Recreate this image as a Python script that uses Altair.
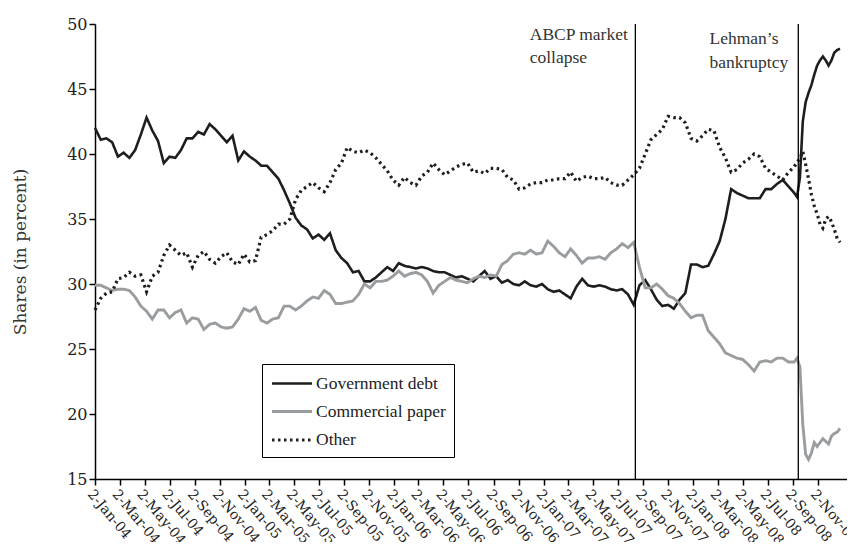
import altair as alt
import pandas as pd

# ---- data (shares in percent), biweekly Jan 2004 - Sep 5 2008, then weekly to Dec 26 2008
biweekly_dates = [d.strftime("%Y-%m-%d") for d in pd.date_range("2004-01-02", periods=123, freq="14D")]
weekly_dates = [d.strftime("%Y-%m-%d") for d in pd.date_range("2008-09-12", periods=16, freq="7D")]
dates = biweekly_dates + weekly_dates

government_debt = [
    42.0, 41.1, 41.2, 40.9, 39.8, 40.1, 39.7, 40.3, 41.5, 42.8,
    41.8, 41.0, 39.3, 39.8, 39.7, 40.3, 41.2, 41.2, 41.7, 41.5,
    42.3, 41.9, 41.4, 40.9, 41.4, 39.5, 40.2, 39.8, 39.5, 39.1,
    39.1, 38.6, 38.1, 37.2, 36.2, 35.1, 34.5, 34.2, 33.5, 33.8,
    33.4, 33.9, 32.6, 32.0, 31.6, 30.9, 31.0, 30.2, 30.2, 30.5,
    30.9, 31.3, 31.0, 31.6, 31.4, 31.3, 31.2, 31.3, 31.2, 31.0,
    30.9, 30.9, 30.7, 30.5, 30.6, 30.4, 30.2, 30.6, 31.0, 30.4,
    30.6, 30.1, 30.3, 30.0, 29.9, 30.2, 29.9, 29.8, 30.0, 29.6,
    29.4, 29.5, 29.2, 28.9, 29.8, 30.4, 29.9, 29.8, 29.9, 29.8,
    29.6, 29.5, 29.6, 29.2, 28.4, 29.9, 30.3, 29.6, 28.8, 28.3,
    28.4, 28.1, 28.8, 29.3, 31.5, 31.5, 31.3, 31.4, 32.3, 33.3,
    35.0, 37.3, 37.0, 36.8, 36.6, 36.6, 36.6, 37.3, 37.3, 37.7,
    38.0, 37.5, 37.0,
    36.7, 38.2, 42.5, 44.0, 44.7, 45.3, 46.1, 46.8, 47.2, 47.5,
    47.2, 46.8, 47.2, 47.8, 48.0, 48.1,
]

commercial_paper = [
    29.9, 29.9, 29.7, 29.5, 29.6, 29.6, 29.5, 29.0, 28.3, 27.9,
    27.3, 28.0, 28.0, 27.4, 27.8, 28.0, 27.0, 27.4, 27.3, 26.5,
    26.9, 27.0, 26.7, 26.6, 26.7, 27.3, 28.1, 27.9, 28.2, 27.2,
    27.0, 27.3, 27.4, 28.3, 28.3, 28.0, 28.3, 28.7, 29.0, 28.9,
    29.5, 29.2, 28.5, 28.5, 28.6, 28.7, 29.2, 30.0, 29.7, 30.2,
    30.2, 30.3, 30.6, 31.0, 30.6, 30.8, 30.9, 30.7, 30.2, 29.3,
    29.9, 30.2, 30.5, 30.3, 30.2, 30.1, 30.4, 30.6, 30.5, 30.7,
    30.6, 31.5, 31.8, 32.3, 32.4, 32.3, 32.6, 32.3, 32.4, 33.3,
    32.9, 32.4, 32.1, 32.7, 32.2, 31.6, 32.0, 32.0, 32.1, 31.9,
    32.4, 32.7, 33.1, 32.8, 33.2, 31.3, 29.7, 29.7, 30.0, 29.6,
    29.1, 28.9, 28.5, 27.9, 27.4, 27.6, 27.6, 26.4, 25.9, 25.4,
    24.7, 24.5, 24.3, 24.2, 23.8, 23.3, 24.0, 24.1, 24.0, 24.3,
    24.3, 24.0, 24.0,
    24.3, 23.6, 19.2, 16.9, 16.5, 17.0, 17.8, 17.5, 17.8, 18.1,
    17.9, 17.7, 18.3, 18.5, 18.6, 18.9,
]

other = [
    28.0, 28.9, 29.3, 29.4, 30.4, 30.5, 30.9, 30.6, 30.7, 29.4,
    30.6, 30.9, 32.2, 33.0, 32.6, 32.2, 32.4, 31.3, 32.2, 32.5,
    31.9, 31.6, 32.1, 32.4, 31.7, 31.5, 32.3, 31.7, 31.8, 33.6,
    33.8, 34.1, 34.6, 34.6, 35.0, 36.5, 37.2, 37.5, 37.8, 37.4,
    37.1, 37.8, 38.8, 39.3, 40.5, 40.2, 40.1, 40.3, 40.1, 39.7,
    39.2, 38.7, 38.0, 37.6, 38.2, 37.8, 37.6, 38.3, 38.6, 39.3,
    38.8, 38.4, 38.7, 39.0, 39.2, 39.3, 38.6, 38.7, 38.5, 38.9,
    38.9, 38.8, 38.2, 38.0, 37.3, 37.4, 37.7, 37.8, 37.8, 38.0,
    38.0, 38.1, 38.1, 38.6, 37.9, 38.2, 38.3, 38.1, 38.1, 38.2,
    37.8, 37.6, 37.6, 38.0, 38.4, 38.9, 40.0, 41.1, 41.5, 41.9,
    42.9, 42.8, 42.8, 42.4, 41.2, 41.0, 41.4, 41.9, 41.8, 40.5,
    39.7, 38.6, 38.8, 39.3, 39.6, 40.0, 39.8, 38.9, 38.6, 38.3,
    38.0, 38.6, 39.0,
    39.4, 39.6, 40.2, 39.2, 38.1, 36.9, 36.0, 35.4, 34.6, 34.3,
    35.0, 35.2, 34.8, 34.2, 33.5, 33.2,
]

series_names = ["Government debt", "Commercial paper", "Other"]
series_colors = ["#1e1e1e", "#9a9d9f", "#1e1e1e"]
series_dashes = [[1, 0], [1, 0], [2.5, 3.5]]
series_widths = [2.6, 3.2, 2.8]

event_dates = ["2007-08-14", "2008-09-15"]
note_dates = ["2006-11-29", "2006-11-29", "2008-02-11", "2008-02-11"]
note_values = [48.77, 46.98, 48.46, 46.6]
note_texts = ["ABCP market", "collapse", "Lehman\u2019s", "bankruptcy"]

tick_dates = [(y, m) for y in range(2004, 2009) for m in (1, 3, 5, 7, 9, 11)]
y_ticks = [15, 20, 25, 30, 35, 40, 45, 50]

# ---- tables
rows = []
for name, vals in zip(series_names, [government_debt, commercial_paper, other]):
    for d, v in zip(dates, vals):
        rows.append({"date": d, "series": name, "share": v})
df = pd.DataFrame(rows)
events = pd.DataFrame({"date": event_dates})
notes = pd.DataFrame({"date": note_dates, "share": note_values, "text": note_texts})

AXIS_FONT = "DejaVu Serif"
TEXT_FONT = "Liberation Serif"

x_scale = alt.Scale(
    type="utc",
    domain=[alt.DateTime(year=2004, month=1, date=2, utc=True),
            alt.DateTime(year=2009, month=1, date=12, utc=True)],
)
x_axis = alt.Axis(
    values=[alt.DateTime(year=y, month=m, date=2, utc=True) for y, m in tick_dates],
    tickCount=100,
    format="%-d-%b-%y",
    labelAngle=50,
    labelAlign="left",
    labelBaseline="top",
    labelOverlap=False,
    labelPadding=2,
    labelFontSize=14,
    title=None,
)
y_scale = alt.Scale(domain=[15, 50], nice=False, zero=False)
y_axis = alt.Axis(values=y_ticks, title="Shares (in percent)", titlePadding=37, labelFontSize=16)

legend = alt.Legend(
    title=None,
    orient="none",
    legendX=167,
    legendY=340,
    strokeColor="black",
    padding=8,
    labelFont=TEXT_FONT,
    labelFontSize=17.5,
    labelColor="#222",
    symbolType="M-1,0H3",
    symbolSize=400,
    symbolStrokeWidth=3.5,
    rowPadding=8,
    labelOffset=22,
)

lines = alt.Chart(df).mark_line(strokeCap="butt").encode(
    x=alt.X("date:T", scale=x_scale, axis=x_axis),
    y=alt.Y("share:Q", scale=y_scale, axis=y_axis),
    color=alt.Color("series:N", scale=alt.Scale(domain=series_names, range=series_colors), legend=legend),
    strokeDash=alt.StrokeDash("series:N", scale=alt.Scale(domain=series_names, range=series_dashes), legend=legend),
    strokeWidth=alt.StrokeWidth("series:N", scale=alt.Scale(domain=series_names, range=series_widths), legend=None),
)

rules = alt.Chart(events).mark_rule(color="black", strokeWidth=1.3).encode(
    x=alt.X("date:T", scale=x_scale),
)

texts = alt.Chart(notes).mark_text(
    align="left", baseline="alphabetic", font=TEXT_FONT, fontSize=17.5, color="#333"
).encode(
    x=alt.X("date:T", scale=x_scale),
    y=alt.Y("share:Q", scale=y_scale),
    text="text:N",
)

chart = alt.layer(lines, rules, texts).properties(
    width=752,
    height=455,
    autosize=alt.AutoSizeParams(type="none"),
    padding={"left": 87, "top": 16, "right": 0, "bottom": 63},
).configure_view(
    stroke=None
).configure_axis(
    grid=False,
    domainColor="black",
    domainWidth=1.5,
    tickColor="black",
    tickWidth=1.5,
    tickSize=6,
    labelFont=AXIS_FONT,
    labelColor="#222",
    titleFont=AXIS_FONT,
    titleFontSize=17,
    titleFontWeight="normal",
    titleColor="#333",
)

chart.save("out.html", embed_options={"renderer": "svg", "actions": False})
